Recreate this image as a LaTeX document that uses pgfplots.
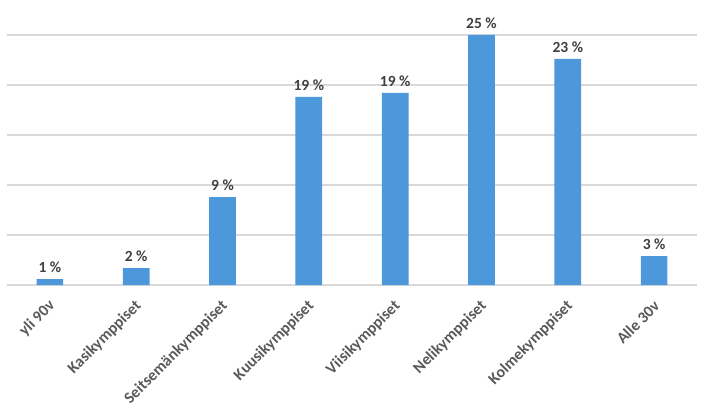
\documentclass[border=0pt]{standalone}
\usepackage{fontspec}
\setmainfont{Carlito}
\usepackage{pgfplots}
\pgfplotsset{compat=1.18}
\usepackage{pgfplotstable}
\definecolor{barblue}{HTML}{4D98DA}
\definecolor{gridgray}{HTML}{D9D9D9}
\definecolor{labelgray}{HTML}{404040}
\definecolor{tickgray}{HTML}{595959}
\pgfplotstableread{
x y lab
0 0.6 1
1 1.7 2
2 8.8 9
3 18.8 19
4 19.2 19
5 25.0 25
6 22.6 23
7 2.9 3
}\datatable
\begin{document}
\begin{tikzpicture}
\begin{axis}[
  name=ax,
  scale only axis,
  width=690.6pt, height=250pt,
  xmin=-0.5, xmax=7.5, ymin=0, ymax=25,
  ytick={0,5,10,15,20,25},
  yticklabels={},
  ymajorgrids,
  grid style={gridgray, line width=1.1pt},
  axis line style={draw=none},
  tick style={draw=none},
  /pgf/number format/assume math mode=true,
  xtick={0,...,7},
  xticklabels={yli 90v, Kasikymppiset, Seitsemänkymppiset, Kuusikymppiset, Viisikymppiset, Nelikymppiset, Kolmekymppiset, Alle 30v},
  xticklabel style={xshift=5pt, yshift=-16pt, rotate=45, anchor=east, font=\fontsize{16}{19}\selectfont\bfseries, text=tickgray},
  clip=false,
]
\addplot[ybar, bar width=26.7pt, fill=barblue, draw=none,
  point meta=explicit,
  nodes near coords={\pgfmathprintnumber[fixed,precision=0,assume math mode=true]{\pgfplotspointmeta}~\%},
  every node near coord/.append style={font=\fontsize{15.5}{18}\selectfont\bfseries, text=labelgray, anchor=south, yshift=3pt},
] table[x=x, y=y, meta=lab] {\datatable};
\end{axis}
\pgfresetboundingbox
\path (ax.south west) +(-6.7pt,-127pt) (ax.north east) +(9.7pt,35pt);
\end{tikzpicture}
\end{document}
